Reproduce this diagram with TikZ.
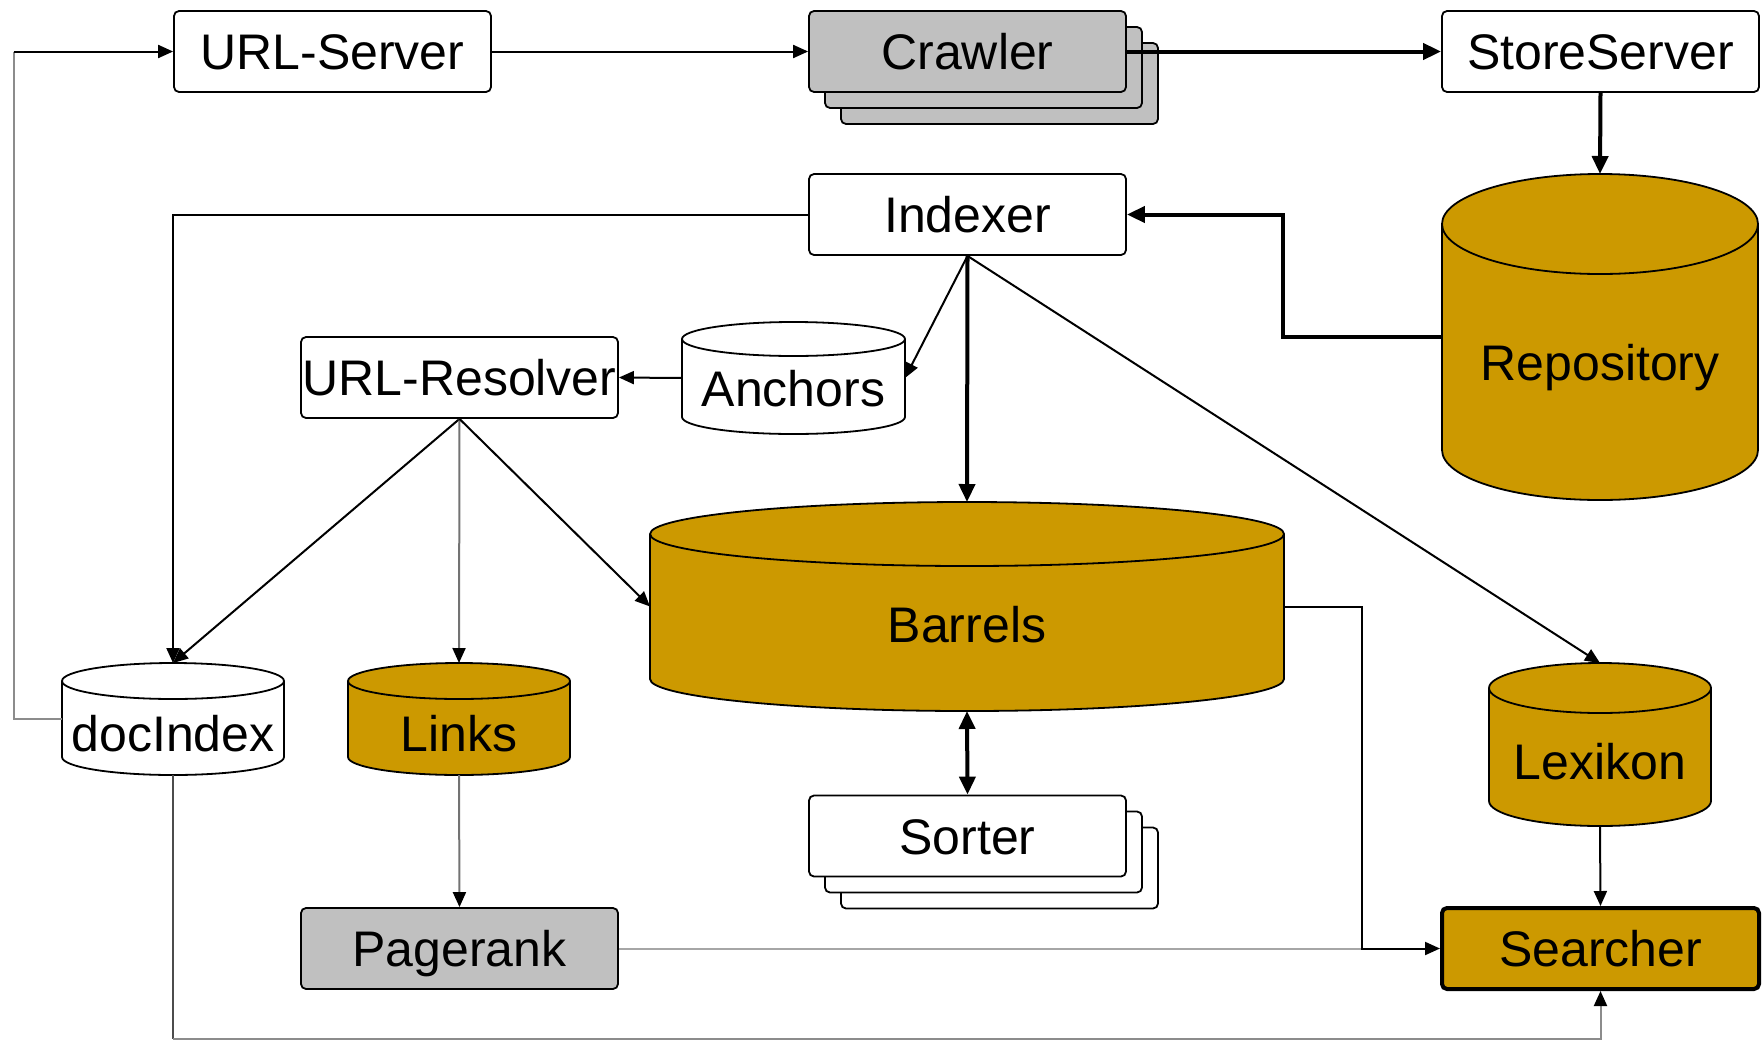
\documentclass[tikz,border=0pt]{standalone}
\usepackage{fontspec}
\setmainfont{Liberation Sans}
\usetikzlibrary{arrows.meta}
\definecolor{gold}{RGB}{204,153,0}
\definecolor{silver}{RGB}{192,192,192}
\tikzset{
  lbl/.style={font=\fontsize{50}{60}\selectfont, inner sep=0pt, text height=36pt, text depth=0pt},
  box/.style={lbl, draw, line width=1.8pt, rounded corners=5pt, minimum width=317pt, minimum height=81pt, fill=white},
  drum/.style={line width=1.8pt},
  wire/.style={line width=2pt, -{Triangle[length=15pt,width=13pt,color=black]}},
  heavy/.style={line width=4pt, -{Triangle[length=18pt,width=16pt]}},
  grey wire/.style={wire, draw=black!55},
}
% cylinder: name, left x, top y, right x, bottom y, ellipse radius, fill, label y, label
\newcommand\dbdrum[9]{%
  \pgfmathsetmacro\drumcx{(#2+#4)/2}%
  \pgfmathsetmacro\drumrx{(#4-#2)/2}%
  \pgfmathsetmacro\drumw{#4-#2}%
  \pgfmathsetmacro\drumh{#5-#3}%
  \pgfmathsetmacro\drumcy{-(#3+#5)/2}%
  \filldraw[drum, fill=#7] (#2,-#3-#6) -- (#2,-#5+#6)
     arc[start angle=180,end angle=360,x radius=\drumrx pt,y radius=#6pt]
     -- (#4,-#3-#6)
     arc[start angle=0,end angle=180,x radius=\drumrx pt,y radius=#6pt] -- cycle;
  \draw[drum] (#2,-#3-#6) arc[start angle=180,end angle=360,x radius=\drumrx pt,y radius=#6pt];
  \node[inner sep=0pt, outer sep=0pt, minimum width=\drumw pt, minimum height=\drumh pt] (#1) at (\drumcx,\drumcy) {};
  \node[lbl] (#1-label) at (\drumcx,-#8) {#9};
}
\begin{document}
\begin{tikzpicture}[x=1pt,y=1pt]
\useasboundingbox (0,0) rectangle (1762,-1042);

% stacked copies behind Crawler and Sorter
\foreach \k in {2,1}{
  \node[box, fill=silver] (crawler-\k) at (967.5+16*\k,-51.5-16*\k) {};
  \node[box] (sorter-\k) at (967.5+16*\k,-836-16*\k) {};
}

% process boxes
\node[box] (urlserver) at (332.5,-51.5) {URL-Server};
\node[box, fill=silver] (crawler) at (967.5,-51.5) {Crawler};
\node[box] (store) at (1600.5,-51.5) {StoreServer};
\node[box] (indexer) at (967.5,-214.5) {Indexer};
\node[box] (resolver) at (459.5,-377.5) {URL-Resolver};
\node[box] (sorter) at (967.5,-836) {Sorter};
\node[box, fill=silver] (pagerank) at (459.5,-948.5) {Pagerank};
\node[box, fill=gold, line width=4pt] (searcher) at (1600.5,-948.5) {Searcher};

% data stores
\dbdrum{repo}{1442}{174}{1758}{500}{50}{gold}{362}{Repository}
\dbdrum{anchors}{682}{322}{905}{434}{17}{white}{388}{Anchors}
\dbdrum{barrels}{650}{502}{1284}{711}{32}{gold}{624}{Barrels}
\dbdrum{docindex}{62}{663}{284}{775}{18}{white}{733}{docIndex}
\dbdrum{links}{348}{663}{570}{775}{18}{gold}{733}{Links}
\dbdrum{lexikon}{1489}{663}{1711}{826}{25}{gold}{761}{Lexikon}

\coordinate (join) at (1362,-948.5);
\coordinate (loop) at (13.5,-51.5);

% connections
\draw[wire] (urlserver.east) -- (crawler.west);
\draw[heavy] (crawler.east) -- (store.west);
\draw[heavy] (store.south) -- (repo.north);
\draw[heavy] (repo.west) -- ++(-159,0) |- (indexer.east);
\draw[wire] (indexer.west) -| (docindex.north);
\draw[wire] (indexer.south) -- (anchors.east);
\draw[heavy] (indexer.south) -- (barrels.north);
\draw[wire] (indexer.south) -- (lexikon.north);
\draw[wire] (anchors.west) -- (resolver.east);
\draw[wire] (resolver.south) -- (docindex.north);
\draw[grey wire] (resolver.south) -- (links.north);
\draw[wire] (resolver.south) -- (barrels.west);
\draw[heavy, {Triangle[length=18pt,width=16pt]}-{Triangle[length=18pt,width=16pt]}] (barrels.south) -- (sorter.north);
\draw[grey wire] (links.south) -- (pagerank.north);
\draw[line width=2pt, draw=black!35] (pagerank.east) -- (join);
\draw[wire] (barrels.east) -| (join) -- (searcher.west);
\draw[wire] (lexikon.south) -- (searcher.north);
\draw[line width=2pt, draw=black!70] (docindex.south) -- ++(0,-264) coordinate (base);
\draw[wire, draw=black!45] (base) -| (searcher.south);
\draw[line width=2pt, draw=black!45] (docindex.west) -| (loop);
\draw[wire] (loop) -- (urlserver.west);
\end{tikzpicture}
\end{document}
